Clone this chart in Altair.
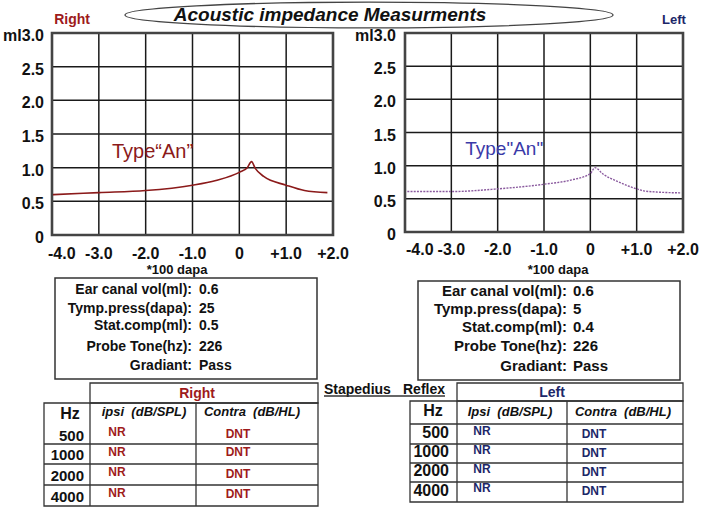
import altair as alt
import pandas as pd

W, H = 709, 520
FONT = "Liberation Sans"
RED = "#9e1b1b"
NAVY = "#1c2768"
INK = "#111111"
LINE = "#333333"

# ---------------- data ----------------
title = "Acoustic impedance Measurments"
ear_names = ["Right", "Left"]
x_ticks = [-4, -3, -2, -1, 0, 1, 2]
x_tick_labels = ["-4.0", "-3.0", "-2.0", "-1.0", "0", "+1.0", "+2.0"]
y_ticks = [0, 0.5, 1.0, 1.5, 2.0, 2.5, 3.0]
y_tick_labels = ["0", "0.5", "1.0", "1.5", "2.0", "2.5", "ml3.0"]
x_title = "*100 dapa"

right_pressure = [-3.98, -3.33, -3.0, -2.0, -1.0, -0.5, 0.0, 0.17, 0.26, 0.34, 0.52, 1.0, 1.39, 1.88]
right_compliance = [0.60, 0.62, 0.63, 0.66, 0.74, 0.81, 0.93, 1.00, 1.09, 0.99, 0.87, 0.74, 0.66, 0.63]
left_pressure = [-3.95, -3.0, -2.0, -1.0, -0.44, 0.0, 0.1, 0.28, 0.56, 1.0, 1.15, 1.5, 1.95]
left_compliance = [0.61, 0.61, 0.65, 0.72, 0.78, 0.88, 0.97, 0.87, 0.77, 0.65, 0.62, 0.60, 0.59]
right_type = "Type\u201cAn\u201d"
left_type = 'Type"An"'
right_type_pos = [-2.72, 1.23]
left_type_pos = [-2.70, 1.25]

info_labels = ["Ear canal vol(ml):", "Tymp.press(dapa):", "Stat.comp(ml):",
               "Probe Tone(hz):", "Gradiant:"]
right_info = ["0.6", "25", "0.5", "226", "Pass"]
left_info = ["0.6", "5", "0.4", "226", "Pass"]

reflex_title = ["Stapedius", "Reflex"]
hz_head = "Hz"
hz = ["500", "1000", "2000", "4000"]
right_cols = ["ipsi\u00a0 (dB/SPL)", "Contra\u00a0 (dB/HL)"]
left_cols = ["Ipsi\u00a0 (dB/SPL)", "Contra\u00a0 (dB/HL)"]
right_ipsi = ["NR", "NR", "NR", "NR"]
right_contra = ["DNT", "DNT", "DNT", "DNT"]
left_ipsi = ["NR", "NR", "NR", "NR"]
left_contra = ["DNT", "DNT", "DNT", "DNT"]

# ---------------- helpers (page layout in pixels) ----------------
PX = alt.Scale(domain=[0, W], range=[0, W], nice=False, zero=False)
PY = alt.Scale(domain=[0, H], range=[0, H], nice=False, zero=False)


def ptext(xs, ys, texts, **kw):
    df = pd.DataFrame({"x": xs, "y": ys, "t": texts})
    style = dict(font=FONT, baseline="middle", fontWeight="bold", color=INK, fontSize=14)
    style.update(kw)
    return alt.Chart(df).mark_text(**style).encode(
        x=alt.X("x:Q", scale=PX, axis=None),
        y=alt.Y("y:Q", scale=PY, axis=None),
        text="t:N",
    )


def pboxes(boxes, width=1.3):
    df = pd.DataFrame(boxes, columns=["x0", "y0", "x1", "y1"])
    return alt.Chart(df).mark_rect(fillOpacity=0, stroke=LINE, strokeWidth=width).encode(
        x=alt.X("x0:Q", scale=PX, axis=None), x2="x1:Q",
        y=alt.Y("y0:Q", scale=PY, axis=None), y2="y1:Q",
    )


def prules(lines, width=1.3):
    df = pd.DataFrame(lines, columns=["x0", "y0", "x1", "y1"])
    return alt.Chart(df).mark_rule(color=LINE, strokeWidth=width).encode(
        x=alt.X("x0:Q", scale=PX, axis=None), x2="x1:Q",
        y=alt.Y("y0:Q", scale=PY, axis=None), y2="y1:Q",
    )


def tymp(pressure, comp, xr, yr, line_kw, note, note_pos, note_kw, ylab_dx, xlab_dy, first_dx):
    xs = alt.Scale(domain=[-4, 2], range=xr, nice=False, zero=False)
    ys = alt.Scale(domain=[0, 3], range=yr, nice=False, zero=False)

    def X(f):
        return alt.X(f, scale=xs, axis=None)

    def Y(f):
        return alt.Y(f, scale=ys, axis=None)

    vg = pd.DataFrame({"p": x_ticks, "lo": y_ticks[0], "hi": y_ticks[-1]})
    hg = pd.DataFrame({"c": y_ticks, "lo": x_ticks[0], "hi": x_ticks[-1]})
    vgrid = alt.Chart(vg).mark_rule(color="#1a1a1a", strokeWidth=1.5).encode(
        x=X("p:Q"), y=Y("lo:Q"), y2="hi:Q")
    hgrid = alt.Chart(hg).mark_rule(color="#1a1a1a", strokeWidth=1.5).encode(
        y=Y("c:Q"), x=X("lo:Q"), x2="hi:Q")
    fr = pd.DataFrame({"x0": [x_ticks[0]], "x1": [x_ticks[-1]],
                       "y0": [y_ticks[0]], "y1": [y_ticks[-1]]})
    frame = alt.Chart(fr).mark_rect(fillOpacity=0, stroke="#444", strokeWidth=2.6).encode(
        x=X("x0:Q"), x2="x1:Q", y=Y("y0:Q"), y2="y1:Q")
    curve = alt.Chart(pd.DataFrame({"p": pressure, "c": comp})).mark_line(
        interpolate="monotone", **line_kw).encode(x=X("p:Q"), y=Y("c:Q"))
    lab_style = dict(font=FONT, fontWeight="bold", fontSize=16, color=INK, baseline="middle")
    xl_first = alt.Chart(pd.DataFrame({"p": x_ticks[:1], "c": y_ticks[0], "t": x_tick_labels[:1]})).mark_text(
        align="left", dx=first_dx, dy=xlab_dy, **lab_style
    ).encode(x=X("p:Q"), y=Y("c:Q"), text="t:N")
    xl_rest = alt.Chart(pd.DataFrame({"p": x_ticks[1:], "c": y_ticks[0], "t": x_tick_labels[1:]})).mark_text(
        align="center", dy=xlab_dy, **lab_style
    ).encode(x=X("p:Q"), y=Y("c:Q"), text="t:N")
    yl = alt.Chart(pd.DataFrame({"p": x_ticks[0], "c": y_ticks, "t": y_tick_labels})).mark_text(
        align="right", dx=ylab_dx, dy=3, **lab_style
    ).encode(x=X("p:Q"), y=Y("c:Q"), text="t:N")
    nt = alt.Chart(pd.DataFrame({"p": [note_pos[0]], "c": [note_pos[1]], "t": [note]})).mark_text(
        font=FONT, baseline="middle", align="left", **note_kw
    ).encode(x=X("p:Q"), y=Y("c:Q"), text="t:N")
    return alt.layer(hgrid, vgrid, frame, curve, xl_first, xl_rest, yl, nt)


# ---------------- tympanograms ----------------
right_chart = tymp(right_pressure, right_compliance, [52, 333], [235, 33],
                   dict(color="#8b1a1a", strokeWidth=1.6),
                   right_type, right_type_pos, dict(fontSize=20, color="#8b1a1a"),
                   -8, 19, -4)
left_chart = tymp(left_pressure, left_compliance, [405, 683], [232, 33],
                  dict(color="#8a5a9e", strokeWidth=1.4, strokeDash=[2, 1.2]),
                  left_type, left_type_pos, dict(fontSize=19, color="#3a3aa8"),
                  -9, 18, 1)

# ---------------- page decorations ----------------
ell_path = ("M-1,0 C-1,-0.029 -0.552,-0.053 0,-0.053 C0.552,-0.053 1,-0.029 1,0 "
            "C1,0.029 0.552,0.053 0,0.053 C-0.552,0.053 -1,0.029 -1,0 Z")
ellipse = alt.Chart(pd.DataFrame({"x": [369], "y": [15]})).mark_point(
    shape=ell_path, size=488 * 488, filled=False, stroke="#444", strokeWidth=1.3, opacity=1
).encode(x=alt.X("x:Q", scale=PX, axis=None), y=alt.Y("y:Q", scale=PY, axis=None))

right_rows = [290, 309, 326, 347, 366]
left_rows = [291, 309, 327, 346, 366]

deco = [
    ellipse,
    ptext([330], [15], [title], fontSize=19, fontStyle="italic"),
    ptext([72], [20], [ear_names[0]], color=RED, fontSize=14),
    ptext([674], [20], [ear_names[1]], color=NAVY, fontSize=13),
    ptext([177, 558], [270, 270], [x_title, x_title], fontSize=13),
    # info boxes
    pboxes([(55, 278, 317, 379), (418, 281, 680, 380)], width=1.5),
    ptext([192] * 5, right_rows, info_labels, align="right", fontSize=14),
    ptext([199] * 5, right_rows, right_info, align="left", fontSize=14),
    ptext([567] * 5, left_rows, info_labels, align="right", fontSize=15),
    ptext([573] * 5, left_rows, left_info, align="left", fontSize=15),
    # stapedius reflex heading
    ptext([324, 403], [390, 390], reflex_title, align="left", fontSize=14),
    prules([(324, 396, 445, 396)], width=1.3),
    # right reflex table
    pboxes([(90, 383, 318, 403), (44, 403, 318, 506)]),
    prules([(90, 403, 90, 506), (196, 403, 196, 506),
            (44, 444, 318, 444), (44, 464, 318, 464), (44, 485, 318, 485)]),
    ptext([197], [394], [ear_names[0]], color=RED, fontSize=14),
    ptext([70], [414], [hz_head], fontSize=16),
    ptext([144, 252], [412, 412], right_cols, fontSize=13, fontStyle="italic"),
    ptext([84] * 4, [436, 455, 476, 497], hz, align="right", fontSize=15),
    ptext([117] * 4, [432, 452, 472, 493], right_ipsi, color=RED, fontSize=12),
    ptext([238] * 4, [434, 452, 474, 494], right_contra, color=RED, fontSize=12),
    # left reflex table
    pboxes([(457, 383, 683, 401), (410, 401, 683, 502)]),
    prules([(457, 401, 457, 502), (567, 401, 567, 502),
            (410, 424, 683, 424), (410, 444, 683, 444), (410, 463, 683, 463),
            (410, 482, 683, 482)]),
    ptext([552], [393], [ear_names[1]], color=NAVY, fontSize=14),
    ptext([433], [411], [hz_head], fontSize=16),
    ptext([510, 623], [412, 412], left_cols, fontSize=13, fontStyle="italic"),
    ptext([449] * 4, [433, 452, 471, 491], hz, align="right", fontSize=16),
    ptext([482] * 4, [431, 450, 469, 488], left_ipsi, color=NAVY, fontSize=12),
    ptext([594] * 4, [434, 453, 472, 491], left_contra, color=NAVY, fontSize=12),
]
deco_layer = alt.layer(*deco)

chart = (
    alt.layer(deco_layer, right_chart, left_chart)
    .resolve_scale(x="independent", y="independent")
    .properties(width=W, height=H, padding=0, background="white",
                autosize=alt.AutoSizeParams(type="none"))
    .configure_view(strokeWidth=0)
)

chart.save("out.html", embed_options={"renderer": "svg", "actions": False})
